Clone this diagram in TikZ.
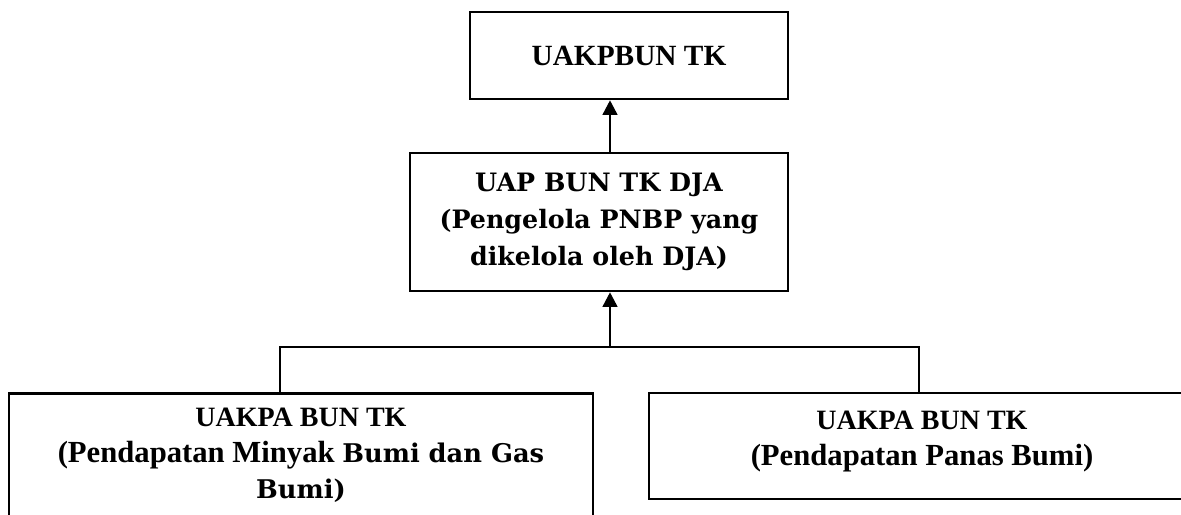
\documentclass[tikz,border=0pt]{standalone}
\usepackage{fontspec}
\setmainfont{Liberation Serif}
\newfontfamily\bookfont{DejaVu Serif}
\usetikzlibrary{arrows.meta}

\newcommand{\bigline}{\fontsize{23}{27}\selectfont}
\newcommand{\bookline}{\bookfont\fontsize{19.3}{27}\selectfont}

\tikzset{
	unitbox/.style={shape=rectangle,draw=black,line width=1.9pt,align=center,font=\bfseries},
	arr/.style={line width=1.9pt,-{Triangle[length=11pt,width=11pt]}}
}

\begin{document}
\begin{tikzpicture}[x=0.75pt,y=-0.75pt]
	\clip (0,0) rectangle (1181,514);
	\node[unitbox,minimum width=238.5pt,minimum height=65.25pt,font=\bfseries\fontsize{22}{26}\selectfont] (uakpbun) at (629,55.5) {UAKPBUN TK};
	\node[unitbox,minimum width=283.5pt,minimum height=103.5pt,font=\bookfont\bfseries\fontsize{19}{27.5}\selectfont] (uapdja) at (599,222) {UAP BUN TK DJA\\(Pengelola PNBP yang\\dikelola oleh DJA)};
	\node[unitbox,anchor=north,minimum width=438pt,inner ysep=11pt,font=\bfseries\fontsize{21}{27}\selectfont] (minyak) at (301,392) {UAKPA BUN TK\\{\bigline(Pendapatan Minyak }{\bookline Bumi dan Gas}\\{\bookline Bumi)}};
	\node[unitbox,minimum width=409.5pt,minimum height=79.5pt,text depth=12pt,font=\bfseries\fontsize{21}{27}\selectfont] (panas) at (922,446) {UAKPA BUN TK\\{\bigline(Pendapatan Panas Bumi)}};
	\coordinate (jn) at (610,347);
	\coordinate (jl) at (280,347);
	\coordinate (jr) at (919,347);
	\draw[line width=1.9pt] (jl |- minyak.north) -- (jl) -- (jr) -- (jr |- panas.north);
	\draw[arr] (jn) -- (jn |- uapdja.south);
	\draw[arr] (uapdja.north -| jn) -- (uakpbun.south -| jn);
\end{tikzpicture}
\end{document}
